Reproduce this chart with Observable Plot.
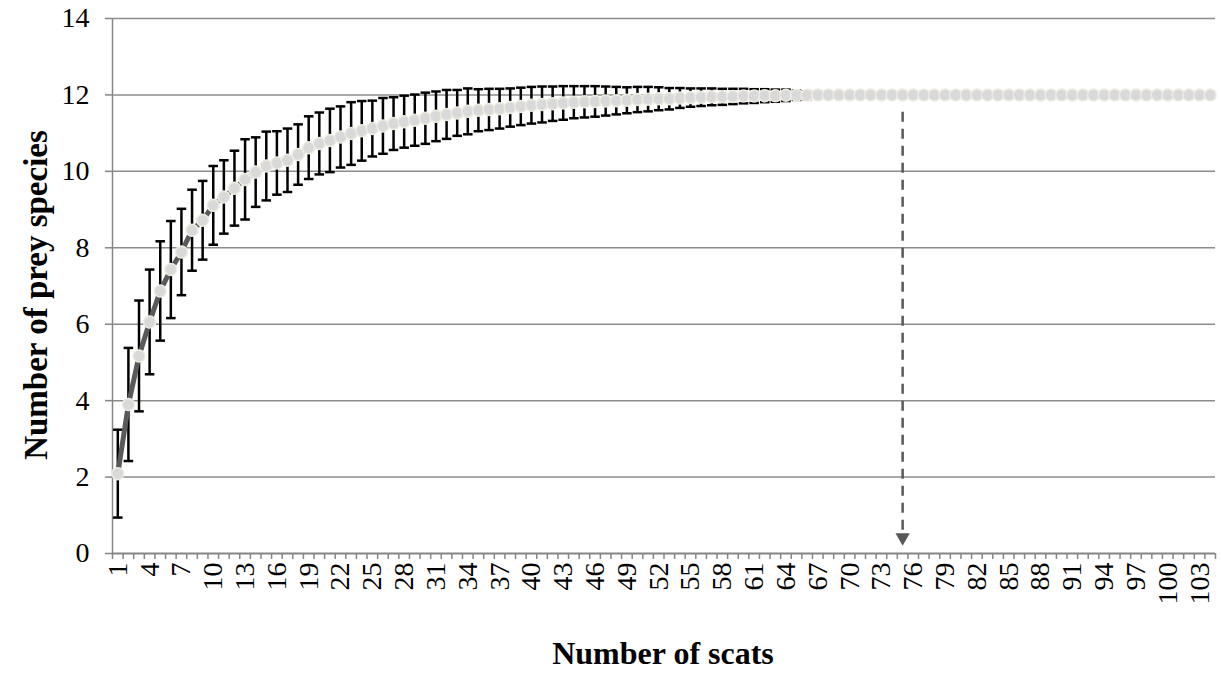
<!DOCTYPE html>
<html>
<head>
<meta charset="utf-8">
<script src="https://cdn.jsdelivr.net/npm/d3@7"></script>
<script src="https://cdn.jsdelivr.net/npm/@observablehq/plot@0.6"></script>
<style>
  html, body { margin: 0; padding: 0; background: #fff; }
  #chart { position: relative; width: 1221px; height: 673px; font-family: "Liberation Serif", "Times New Roman", serif; }
  #chart svg text { font-size: 28px; fill: #000; }
  .axis-title { position: absolute; font-weight: bold; font-size: 33px; color: #000; white-space: nowrap; line-height: 1; }
  #x-title { left: 0; width: 1221px; text-align: center; top: 637px; padding-left: 105px; box-sizing: border-box; font-size: 32px; }
  #y-title { left: 36px; top: 295px; transform: translate(-50%, -50%) rotate(-90deg); }
</style>
</head>
<body>
<div id="chart">
  <div class="axis-title" id="x-title">Number of scats</div>
  <div class="axis-title" id="y-title">Number of prey species</div>
</div>
<script>
// Mean number of prey species recorded for 1..104 scats (rarefaction curve)
const meanSpecies = [
  2.09, 3.90, 5.17, 6.06, 6.87, 7.43, 7.89, 8.46, 8.72, 9.11,
  9.33, 9.56, 9.79, 9.98, 10.14, 10.22, 10.29, 10.44, 10.62, 10.73,
  10.81, 10.90, 10.99, 11.06, 11.12, 11.19, 11.25, 11.30, 11.34, 11.39,
  11.44, 11.49, 11.53, 11.57, 11.60, 11.62, 11.64, 11.67, 11.70, 11.73,
  11.75, 11.77, 11.79, 11.81, 11.82, 11.83, 11.84, 11.85, 11.86, 11.88,
  11.89, 11.90, 11.90, 11.92, 11.93, 11.94, 11.95, 11.95, 11.96, 11.97,
  11.97, 11.98, 11.98, 11.99, 11.99, 11.99, 12.00, 12.00, 12.00, 12.00,
  12.00, 12.00, 12.00, 12.00, 12.00, 12.00, 12.00, 12.00, 12.00, 12.00,
  12.00, 12.00, 12.00, 12.00, 12.00, 12.00, 12.00, 12.00, 12.00, 12.00,
  12.00, 12.00, 12.00, 12.00, 12.00, 12.00, 12.00, 12.00, 12.00, 12.00,
  12.00, 12.00, 12.00, 12.00
];

// Standard deviation around each mean (error bars)
const sdSpecies = [
  1.15, 1.48, 1.45, 1.37, 1.30, 1.27, 1.13, 1.06, 1.03, 1.03,
  0.96, 0.98, 1.05, 0.91, 0.90, 0.83, 0.83, 0.79, 0.82, 0.81,
  0.83, 0.80, 0.82, 0.78, 0.73, 0.73, 0.69, 0.68, 0.67, 0.67,
  0.65, 0.64, 0.60, 0.60, 0.55, 0.54, 0.52, 0.50, 0.49, 0.48,
  0.47, 0.45, 0.44, 0.42, 0.41, 0.40, 0.38, 0.36, 0.34, 0.33,
  0.32, 0.30, 0.28, 0.26, 0.24, 0.23, 0.22, 0.21, 0.20, 0.19,
  0.18, 0.17, 0.16, 0.15, 0.12, 0.10, 0.08, 0.07, 0.06, 0.05,
  0.04, 0, 0, 0, 0, 0, 0, 0, 0, 0,
  0, 0, 0, 0, 0, 0, 0, 0, 0, 0,
  0, 0, 0, 0, 0, 0, 0, 0, 0, 0,
  0, 0, 0, 0
];

// Category labels shown on the x axis (every third sample size)
const xTickLabels = [1, 4, 7, 10, 13, 16, 19, 22, 25, 28, 31, 34, 37, 40, 43, 46, 49, 52,
  55, 58, 61, 64, 67, 70, 73, 76, 79, 82, 85, 88, 91, 94, 97, 100, 103];
const yTicks = [0, 2, 4, 6, 8, 10, 12, 14];

// Sample size at which the curve reaches its asymptote
const saturationScats = 75;
const arrowFrom = 11.55;
const arrowTo = 0.55;

const rows = meanSpecies.map((m, i) => ({ scats: i + 1, mean: m, sd: sdSpecies[i] }));
const bars = rows.filter(d => d.sd > 0);
const nCats = rows.length;
// Tick marks sit between categories
const boundaries = d3.range(0.5, nCats + 1, 1);

const axisGrey = "#868686";
const gridGrey = "#8c8c8c";
const serif = '"Liberation Serif", "Times New Roman", serif';
const capHalf = 0.45;

const chart = Plot.plot({
  width: 1221,
  height: 673,
  marginLeft: 112,
  marginRight: 6,
  marginTop: 18,
  marginBottom: 120,
  style: { fontFamily: serif, fontSize: "28px", color: "#000", background: "transparent", overflow: "visible" },
  x: { domain: [0.5, nCats + 0.5], axis: null },
  y: { domain: [0, 14], axis: null },
  marks: [
    // horizontal gridlines
    Plot.ruleY(yTicks.filter(v => v > 0), { stroke: gridGrey, strokeWidth: 1.5 }),
    // y axis line and ticks
    Plot.ruleX([0.5], { y1: 0, y2: 14, stroke: axisGrey, strokeWidth: 1.5 }),
    Plot.axisY(yTicks, {
      tickSize: 7, tickPadding: 16, stroke: axisGrey, strokeWidth: 1.5,
      label: null, tickFormat: d => String(d)
    }),
    // x axis line, tick marks between categories, rotated labels
    Plot.ruleY([0], { stroke: axisGrey, strokeWidth: 2 }),
    Plot.axisX(boundaries, {
      tickSize: 6, stroke: axisGrey, strokeWidth: 1.5, tickFormat: () => "", label: null
    }),
    Plot.axisX(xTickLabels, {
      tickSize: 0, tickPadding: 9, tickRotate: -90, label: null,
      tickFormat: d => String(d)
    }),
    // dashed arrow marking the saturation point
    Plot.ruleX([saturationScats], {
      y1: arrowFrom, y2: arrowTo, stroke: "#595959", strokeWidth: 2.5, strokeDasharray: "10,7"
    }),
    Plot.dot([saturationScats], {
      x: d => d, y: 0.42, symbol: "triangle", rotate: 180, r: 5.3, fill: "#595959", stroke: "none"
    }),
    // error bars (± SD)
    Plot.ruleX(bars, { x: "scats", y1: d => d.mean - d.sd, y2: d => d.mean + d.sd, stroke: "#000", strokeWidth: 2.5 }),
    Plot.link(bars, { x1: d => d.scats - capHalf, x2: d => d.scats + capHalf, y1: d => d.mean + d.sd, y2: d => d.mean + d.sd, stroke: "#000", strokeWidth: 2.5 }),
    Plot.link(bars, { x1: d => d.scats - capHalf, x2: d => d.scats + capHalf, y1: d => d.mean - d.sd, y2: d => d.mean - d.sd, stroke: "#000", strokeWidth: 2.5 }),
    // mean curve and markers
    Plot.line(rows, { x: "scats", y: "mean", stroke: "#595959", strokeWidth: 5 }),
    Plot.dot(rows, { x: "scats", y: "mean", r: 6, fill: "#d9d9d9", stroke: "#eeece1", strokeWidth: 1.5 })
  ]
});

chart.style.position = "absolute";
chart.style.left = "0";
chart.style.top = "0";
document.getElementById("chart").prepend(chart);
</script>
</body>
</html>
